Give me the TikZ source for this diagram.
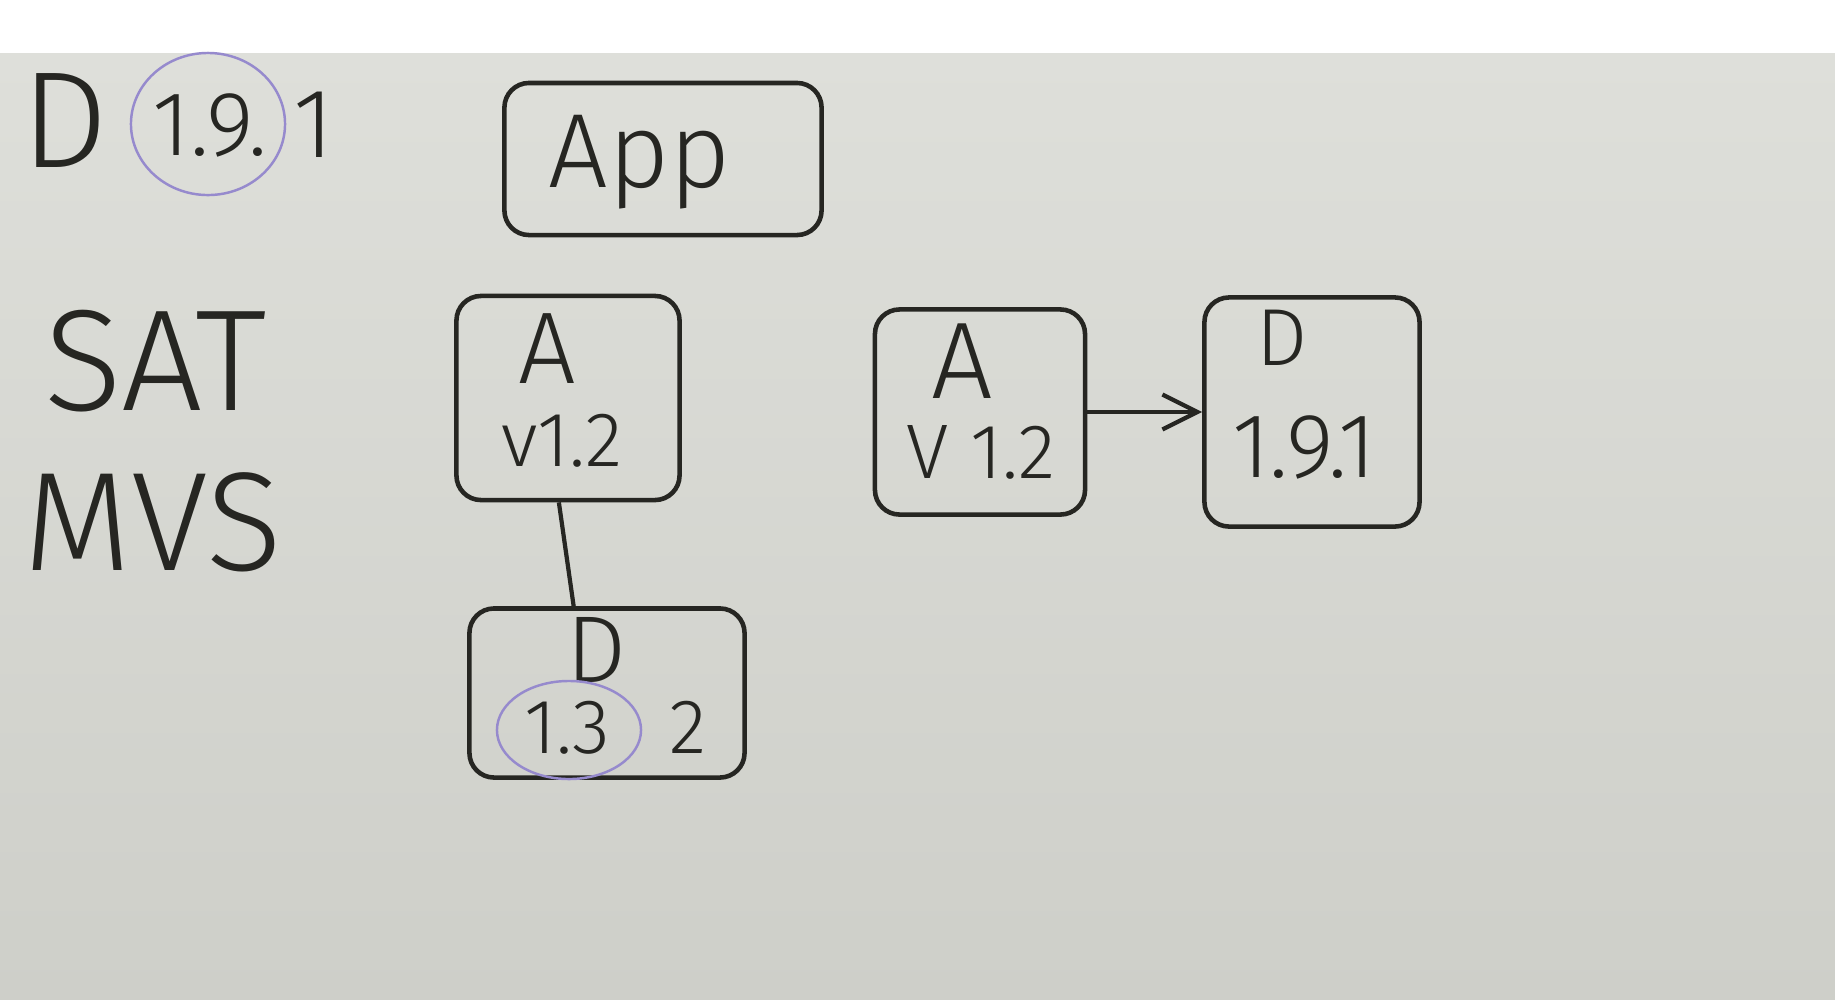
\documentclass[tikz,border=0pt]{standalone}
\usepackage{fontspec}
\setmainfont{Fira Sans}[UprightFont=* Light]
\usetikzlibrary{arrows.meta, shapes.geometric}
\definecolor{ink}{RGB}{38, 38, 34}
\definecolor{boardtop}{RGB}{222, 223, 218}
\definecolor{boardbot}{RGB}{206, 207, 201}
\definecolor{ringlilac}{RGB}{150, 138, 205}
\tikzset{
  hand/.style={font=\fontsize{#1}{#1}\selectfont, text=ink, inner sep=0pt, anchor=base},
  pkgbox/.style={draw=ink, line width=1.3pt, rounded corners=7pt, inner sep=0pt},
  ring/.style={draw=ringlilac, line width=0.7pt, ellipse, inner sep=0pt},
  wire/.style={draw=ink, line width=1.2pt},
}

\begin{document}
\begin{tikzpicture}[x=0.01cm, y=-0.01cm]
  % Board
  \fill[white] (0,0) rectangle (1835,999);
  \shade[top color=boardtop, bottom color=boardbot] (0,53) rectangle (1835,999);
  \useasboundingbox (0,0) rectangle (1835,999);

  % Left notes
  \node[hand=39] (dname) at (65,167) {D};
  \node[hand=26] (dcore) at (210,155) {1.9.};
  \node[hand=28] (dlast) at (314,157) {1};
  \node[ring, minimum width=1.54cm, minimum height=1.42cm] (dring) at (208,124) {};
  \node[hand=41] (sat) at (156,410) {SAT};
  \node[hand=40] (mvs) at (153,570) {MVS};

  % App
  \node[pkgbox, minimum width=3.17cm, minimum height=1.52cm] (app) at (663,159) {};
  \node[hand=30] (applab) at (640,187) {App};

  % A v1.2 and D 1.3.2
  \node[pkgbox, minimum width=2.23cm, minimum height=2.04cm] (a1) at (568,398) {};
  \node[hand=29] (a1name) at (547,383) {A};
  \node[hand=22] (a1ver) at (562,466) {v1.2};

  \node[pkgbox, minimum width=2.75cm, minimum height=1.69cm] (d1) at (607,693) {};
  \node[hand=27] (d1name) at (597,682) {D};
  \node[hand=22] (d1core) at (567,753) {1.3};
  \node[hand=22] (d1last) at (688,753) {2};
  \node[ring, minimum width=1.44cm, minimum height=0.98cm] (d1ring) at (569,730) {};

  \draw[wire] (a1.265) -- (d1.111);

  % A v1.2 and D 1.9.1
  \node[pkgbox, minimum width=2.10cm, minimum height=2.05cm] (a2) at (980,412) {};
  \node[hand=31] (a2name) at (962,398) {A};
  \node[hand=22] (a2ver) at (981,478) {V 1.2};

  \node[pkgbox, minimum width=2.15cm, minimum height=2.29cm] (d2) at (1312,412) {};
  \node[hand=23] (d2name) at (1282,365) {D};
  \node[hand=26] (d2ver) at (1304,477) {1.9.1};

  \draw[wire, -{Straight Barb[length=3.5mm, width=3.5mm]}] (a2.east) -- (d2.west);
\end{tikzpicture}
\end{document}
